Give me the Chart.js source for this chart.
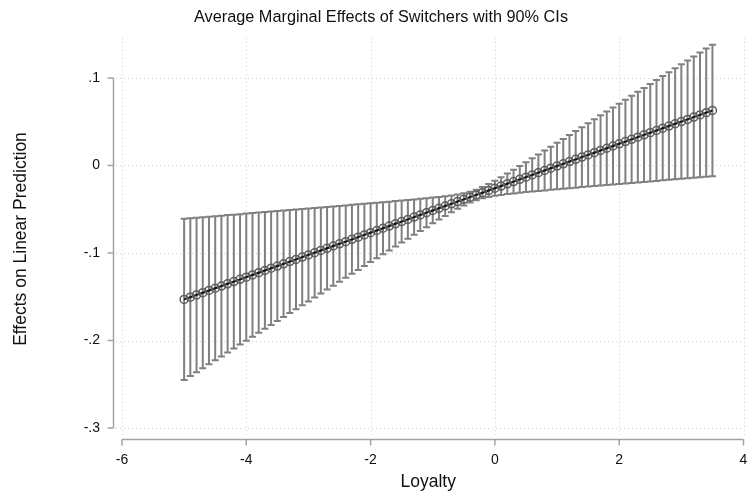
<!DOCTYPE html>
<html>
<head>
<meta charset="utf-8">
<script src="https://cdn.jsdelivr.net/npm/chart.js@4/dist/chart.umd.min.js"></script>
<style>
  html, body { margin: 0; padding: 0; background: #ffffff; }
  #wrap { width: 749px; height: 496px; position: relative; }
</style>
</head>
<body>
<div id="wrap"><canvas id="c" width="749" height="496"></canvas></div>
<script>
// Loyalty grid at which the margins were evaluated
const loyalty = [
  -5.0,-4.9,-4.8,-4.7,-4.6,-4.5,-4.4,-4.3,-4.2,-4.1,
  -4.0,-3.9,-3.8,-3.7,-3.6,-3.5,-3.4,-3.3,-3.2,-3.1,
  -3.0,-2.9,-2.8,-2.7,-2.6,-2.5,-2.4,-2.3,-2.2,-2.1,
  -2.0,-1.9,-1.8,-1.7,-1.6,-1.5,-1.4,-1.3,-1.2,-1.1,
  -1.0,-0.9,-0.8,-0.7,-0.6,-0.5,-0.4,-0.3,-0.2,-0.1,
   0.0, 0.1, 0.2, 0.3, 0.4, 0.5, 0.6, 0.7, 0.8, 0.9,
   1.0, 1.1, 1.2, 1.3, 1.4, 1.5, 1.6, 1.7, 1.8, 1.9,
   2.0, 2.1, 2.2, 2.3, 2.4, 2.5, 2.6, 2.7, 2.8, 2.9,
   3.0, 3.1, 3.2, 3.3, 3.4, 3.5
];

// Average marginal effect of switchers
const effect = [
  -0.1530,-0.1505,-0.1479,-0.1454,-0.1428,-0.1403,-0.1378,-0.1352,-0.1327,-0.1301,
  -0.1276,-0.1251,-0.1225,-0.1200,-0.1174,-0.1149,-0.1124,-0.1098,-0.1073,-0.1047,
  -0.1022,-0.0997,-0.0971,-0.0946,-0.0920,-0.0895,-0.0870,-0.0844,-0.0819,-0.0793,
  -0.0768,-0.0743,-0.0717,-0.0692,-0.0666,-0.0641,-0.0616,-0.0590,-0.0565,-0.0539,
  -0.0514,-0.0489,-0.0463,-0.0438,-0.0412,-0.0387,-0.0362,-0.0336,-0.0311,-0.0285,
  -0.0260,-0.0235,-0.0209,-0.0184,-0.0158,-0.0133,-0.0108,-0.0082,-0.0057,-0.0031,
  -0.0006, 0.0019, 0.0045, 0.0070, 0.0096, 0.0121, 0.0146, 0.0172, 0.0197, 0.0223,
   0.0248, 0.0273, 0.0299, 0.0324, 0.0350, 0.0375, 0.0400, 0.0426, 0.0451, 0.0477,
   0.0502, 0.0527, 0.0553, 0.0578, 0.0604, 0.0629
];

// Lower bound of the 90% confidence interval
const ciLow = [
  -0.2452,-0.2407,-0.2362,-0.2317,-0.2272,-0.2227,-0.2182,-0.2137,-0.2092,-0.2047,
  -0.2002,-0.1957,-0.1912,-0.1867,-0.1822,-0.1777,-0.1732,-0.1687,-0.1642,-0.1598,
  -0.1553,-0.1508,-0.1463,-0.1418,-0.1373,-0.1328,-0.1283,-0.1238,-0.1194,-0.1149,
  -0.1104,-0.1059,-0.1015,-0.0970,-0.0926,-0.0881,-0.0837,-0.0792,-0.0748,-0.0705,
  -0.0661,-0.0618,-0.0576,-0.0534,-0.0494,-0.0457,-0.0424,-0.0396,-0.0375,-0.0359,
  -0.0347,-0.0336,-0.0327,-0.0319,-0.0312,-0.0304,-0.0298,-0.0291,-0.0285,-0.0278,
  -0.0272,-0.0266,-0.0259,-0.0253,-0.0247,-0.0241,-0.0235,-0.0229,-0.0223,-0.0217,
  -0.0211,-0.0205,-0.0199,-0.0194,-0.0188,-0.0182,-0.0176,-0.0170,-0.0164,-0.0158,
  -0.0152,-0.0147,-0.0141,-0.0135,-0.0129,-0.0123
];

// Upper bound of the 90% confidence interval
const ciHigh = [
  -0.0608,-0.0602,-0.0596,-0.0591,-0.0585,-0.0579,-0.0573,-0.0567,-0.0562,-0.0556,
  -0.0550,-0.0544,-0.0538,-0.0532,-0.0527,-0.0521,-0.0515,-0.0509,-0.0503,-0.0497,
  -0.0492,-0.0486,-0.0480,-0.0474,-0.0468,-0.0462,-0.0456,-0.0450,-0.0444,-0.0438,
  -0.0432,-0.0426,-0.0420,-0.0414,-0.0407,-0.0401,-0.0394,-0.0388,-0.0381,-0.0374,
  -0.0367,-0.0359,-0.0351,-0.0342,-0.0331,-0.0317,-0.0299,-0.0276,-0.0247,-0.0212,
  -0.0174,-0.0133,-0.0091,-0.0049,-0.0005, 0.0038, 0.0082, 0.0126, 0.0171, 0.0215,
   0.0260, 0.0304, 0.0349, 0.0394, 0.0438, 0.0483, 0.0528, 0.0573, 0.0618, 0.0662,
   0.0707, 0.0752, 0.0797, 0.0842, 0.0887, 0.0932, 0.0977, 0.1022, 0.1067, 0.1112,
   0.1156, 0.1201, 0.1246, 0.1291, 0.1336, 0.1381
];

// Axis ticks
const xTicks = [-6, -4, -2, 0, 2, 4];
const yTicks = [-0.3, -0.2, -0.1, 0, 0.1];

const TITLE = 'Average Marginal Effects of Switchers with 90% CIs';
const FONT = '"Liberation Sans", Arial, Helvetica, sans-serif';
const AXIS_COLOR = '#a3a3a3';
const GRID_COLOR = '#d0d0d0';
const CI_COLOR = '#808080';

// Stata-style number labels: ".1", "-.2", "0"
function stataNum(v) {
  const r = Math.round(v * 10) / 10;
  if (r === 0) return '0';
  return String(r).replace(/^(-?)0\./, '$1.');
}

// Dotted grid, detached axis lines with outward ticks, and capped CI spikes
const stataFrame = {
  id: 'stataFrame',
  beforeDatasetsDraw(chart) {
    const { ctx, chartArea: a, scales } = chart;
    const xs = scales.x, ys = scales.y;
    ctx.save();
    // dotted grid
    ctx.strokeStyle = GRID_COLOR;
    ctx.lineWidth = 1;
    ctx.setLineDash([1, 3]);
    yTicks.forEach(v => {
      const y = Math.round(ys.getPixelForValue(v)) + 0.5;
      ctx.beginPath(); ctx.moveTo(a.left + 3, y); ctx.lineTo(a.right, y); ctx.stroke();
    });
    xTicks.forEach(v => {
      const x = Math.round(xs.getPixelForValue(v)) + 0.5;
      ctx.beginPath(); ctx.moveTo(x, a.top); ctx.lineTo(x, a.bottom - 3); ctx.stroke();
    });
    ctx.setLineDash([]);
    // axes
    ctx.strokeStyle = AXIS_COLOR;
    ctx.lineWidth = 1.5;
    const ax = a.left + 0.5;
    const y0 = ys.getPixelForValue(yTicks[0]), y1 = ys.getPixelForValue(yTicks[yTicks.length - 1]);
    ctx.beginPath(); ctx.moveTo(ax, y0); ctx.lineTo(ax, y1); ctx.stroke();
    yTicks.forEach(v => {
      const y = ys.getPixelForValue(v);
      ctx.beginPath(); ctx.moveTo(ax, y); ctx.lineTo(ax - 6, y); ctx.stroke();
    });
    const ay = a.bottom - 0.5;
    const x0 = xs.getPixelForValue(xTicks[0]), x1 = xs.getPixelForValue(xTicks[xTicks.length - 1]);
    ctx.beginPath(); ctx.moveTo(x0, ay); ctx.lineTo(x1, ay); ctx.stroke();
    xTicks.forEach(v => {
      const x = xs.getPixelForValue(v);
      ctx.beginPath(); ctx.moveTo(x, ay); ctx.lineTo(x, ay + 6); ctx.stroke();
    });
    // confidence interval spikes with caps
    ctx.strokeStyle = CI_COLOR;
    ctx.lineWidth = 2;
    const cap = 3.5;
    loyalty.forEach((lx, i) => {
      const x = xs.getPixelForValue(lx);
      const yl = ys.getPixelForValue(ciLow[i]);
      const yh = ys.getPixelForValue(ciHigh[i]);
      ctx.beginPath();
      ctx.moveTo(x, yl); ctx.lineTo(x, yh);
      ctx.moveTo(x - cap, yl); ctx.lineTo(x + cap, yl);
      ctx.moveTo(x - cap, yh); ctx.lineTo(x + cap, yh);
      ctx.stroke();
    });
    ctx.restore();
  },
  afterDraw(chart) {
    // graph title, centred over the whole graph
    const { ctx } = chart;
    ctx.save();
    ctx.fillStyle = '#111111';
    ctx.font = '16.3px ' + FONT;
    ctx.textAlign = 'center';
    ctx.textBaseline = 'middle';
    ctx.fillText(TITLE, 381, 18);
    ctx.restore();
  }
};

new Chart(document.getElementById('c'), {
  type: 'line',
  data: {
    datasets: [{
      label: 'Switchers',
      data: loyalty.map((x, i) => ({ x: x, y: effect[i] })),
      borderColor: '#111111',
      borderWidth: 2,
      pointStyle: 'circle',
      pointRadius: 4,
      pointBorderWidth: 1.5,
      pointBorderColor: '#5e5e5e',
      pointBackgroundColor: 'rgba(0,0,0,0)',
      tension: 0,
      fill: false
    }]
  },
  options: {
    responsive: false,
    animation: false,
    events: [],
    layout: { padding: { left: 0, right: 3, top: 38, bottom: 0 } },
    plugins: {
      legend: { display: false },
      tooltip: { enabled: false },
      title: { display: false }
    },
    scales: {
      x: {
        type: 'linear',
        min: -6.1442,
        max: 4,
        afterBuildTicks(scale) { scale.ticks = xTicks.map(v => ({ value: v })); },
        afterFit(scale) { scale.height = 56; scale.paddingLeft = 0; scale.paddingRight = 0; },
        grid: { display: false },
        border: { display: false },
        ticks: {
          color: '#111111',
          font: { family: FONT, size: 14 },
          padding: 4,
          maxRotation: 0,
          autoSkip: false,
          callback: v => String(v)
        },
        title: {
          display: true,
          text: 'Loyalty',
          color: '#111111',
          font: { family: FONT, size: 17.5 },
          padding: { top: 0, bottom: 3 }
        }
      },
      y: {
        type: 'linear',
        min: -0.31371,
        max: 0.14571,
        afterBuildTicks(scale) { scale.ticks = yTicks.map(v => ({ value: v })); },
        afterFit(scale) { scale.width = 113; scale.paddingTop = 0; scale.paddingBottom = 0; },
        grid: { display: false },
        border: { display: false },
        ticks: {
          color: '#111111',
          font: { family: FONT, size: 14 },
          padding: 5,
          autoSkip: false,
          callback: v => stataNum(v)
        },
        title: {
          display: true,
          text: 'Effects on Linear Prediction',
          color: '#111111',
          font: { family: FONT, size: 17.5 },
          padding: { top: 11, bottom: 0 }
        }
      }
    }
  },
  plugins: [stataFrame]
});
</script>
</body>
</html>
